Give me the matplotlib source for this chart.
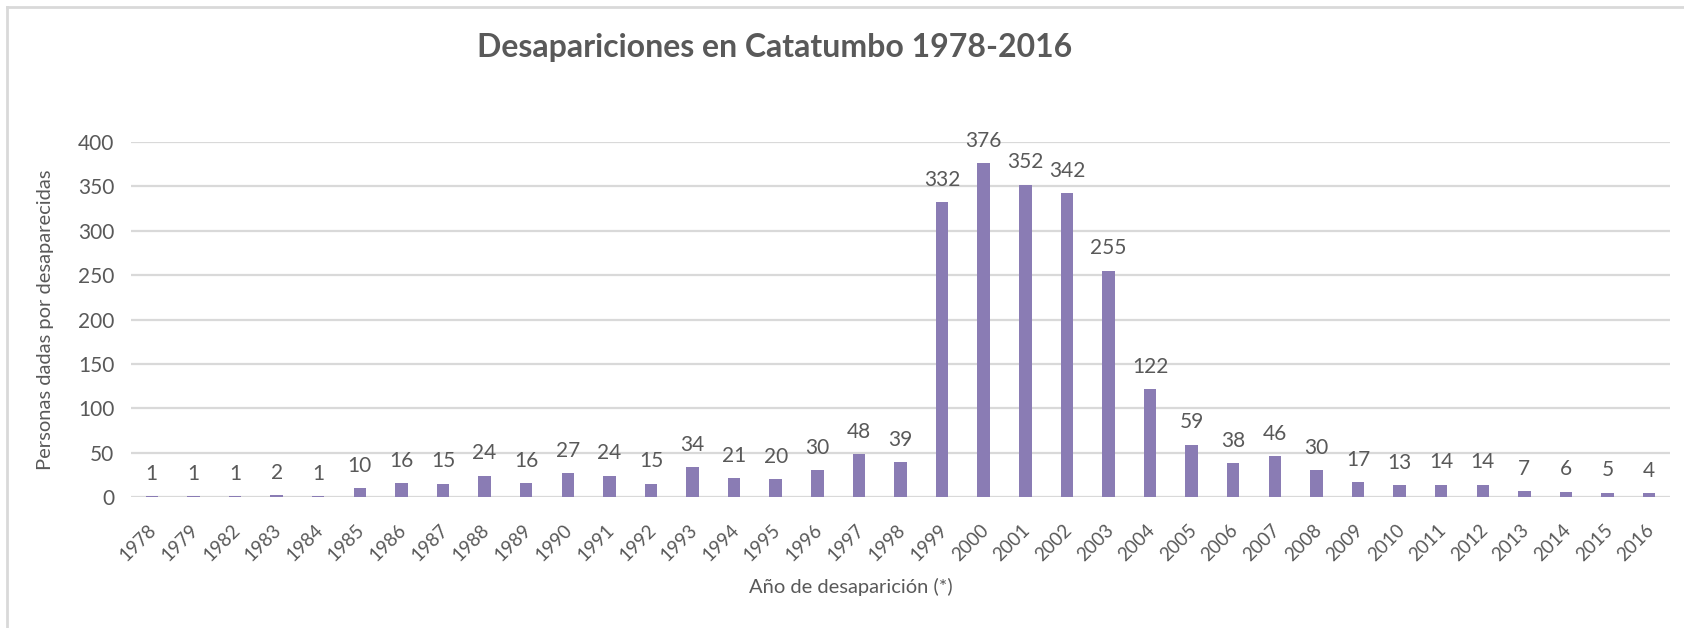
import matplotlib
matplotlib.use("Agg")
import matplotlib.pyplot as plt
import matplotlib.transforms as mtransforms
from matplotlib.lines import Line2D

years = ["1978", "1979", "1982", "1983", "1984", "1985", "1986", "1987", "1988",
         "1989", "1990", "1991", "1992", "1993", "1994", "1995", "1996", "1997",
         "1998", "1999", "2000", "2001", "2002", "2003", "2004", "2005", "2006",
         "2007", "2008", "2009", "2010", "2011", "2012", "2013", "2014", "2015", "2016"]
values = [1, 1, 1, 2, 1, 10, 16, 15, 24, 16, 27, 24, 15, 34, 21, 20, 30, 48,
          39, 332, 376, 352, 342, 255, 122, 59, 38, 46, 30, 17, 13, 14, 14, 7, 6, 5, 4]
yticks = [0, 50, 100, 150, 200, 250, 300, 350, 400]

title = "Desapariciones en Catatumbo 1978-2016"
ylabel = "Personas dadas por desaparecidas"
xlabel = "Año de desaparición (*)"

TXT = "#595959"
BAR = "#8A7CB4"
GRID = "#D9D9D9"
FONT = ["Lato", "DejaVu Sans"]
plt.rcParams["font.family"] = FONT

W, H = 1684, 628
fig = plt.figure(figsize=(W / 100, H / 100), dpi=100)
fig.patch.set_facecolor("white")

ax = fig.add_axes([131 / W, 1 - 497 / H, (1670 - 131) / W, (497 - 142) / H])
x = list(range(len(years)))
ax.bar(x, values, width=0.3, color=BAR, zorder=3)
ax.set_xlim(-0.5, len(years) - 0.5)
ax.set_ylim(0, 400)
ax.set_yticks(yticks)
ax.set_yticklabels([str(v) for v in yticks])
ax.yaxis.grid(True, color=GRID, linewidth=1.6, zorder=0)
ax.set_axisbelow(True)
for s in ax.spines.values():
    s.set_visible(False)
ax.tick_params(axis="both", length=0, colors=TXT)
ax.tick_params(axis="y", labelsize=15, pad=12)
ax.set_xticks(x)
ax.set_xticklabels(years, rotation=45, ha="right", va="center",
                   rotation_mode="anchor", fontsize=13.5, color=TXT)
ax.tick_params(axis="x", pad=22)
offset = mtransforms.ScaledTranslation(1.5 / 72, 0, fig.dpi_scale_trans)
for lab in ax.get_xticklabels():
    lab.set_transform(lab.get_transform() + offset)

for xi, v in zip(x, values):
    ax.annotate(str(v), (xi, v), xytext=(0, 16), textcoords="offset points",
                ha="center", va="center", fontsize=15, color=TXT)

ax.set_ylabel(ylabel, fontsize=14.5, color=TXT)
ax.yaxis.set_label_coords(-0.05, 0.5)
ax.set_xlabel(xlabel, fontsize=14.5, color=TXT)
ax.xaxis.set_label_coords(0.468, -0.228)

fig.text(775 / W, 1 - 48 / H, title, ha="center", va="center",
         fontsize=23, fontweight="bold", color=TXT)

# outer frame (top and left edges)
fig.add_artist(Line2D([7 / W, 1], [1 - 7 / H, 1 - 7 / H], color=GRID, linewidth=2,
                      transform=fig.transFigure))
fig.add_artist(Line2D([7 / W, 7 / W], [0, 1 - 7 / H], color=GRID, linewidth=2,
                      transform=fig.transFigure))

fig.savefig("out.png", dpi=100, facecolor="white")
